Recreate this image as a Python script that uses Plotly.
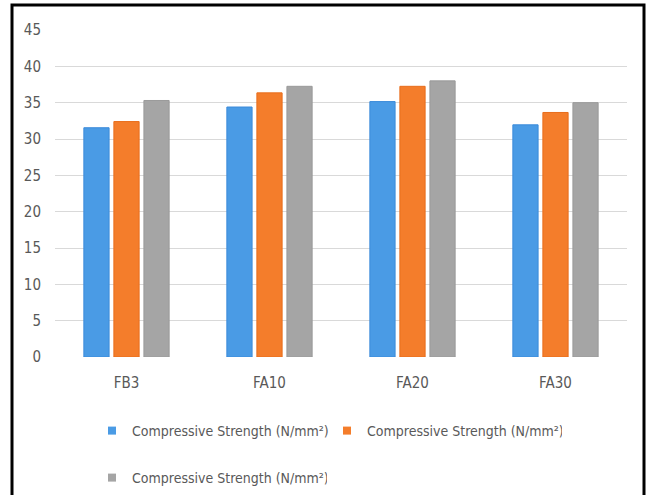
import plotly.graph_objects as go

# Mix designs and measured compressive strengths (N/mm²)
categories = ["FB3", "FA10", "FA20", "FA30"]
series_names = ["Compressive Strength (N/mm²)"] * 3
strength_a = [31.55, 34.4, 35.15, 31.95]
strength_b = [32.4, 36.35, 37.25, 33.65]
strength_c = [35.3, 37.25, 38.0, 35.0]
y_ticks = [0, 5, 10, 15, 20, 25, 30, 35, 40, 45]

fills = ["#4A9BE5", "#F47D2B", "#A5A5A5"]
edges = ["#3A8ADA", "#E86E1C", "#9A9A9A"]
FONT = "DejaVu Sans Condensed, Roboto, sans-serif"

W, H = 648, 495
ML, MR, MT, MB = 55, 21, 30, 138
PW, PH = W - ML - MR, H - MT - MB

fig = go.Figure()
for vals, fc, ec in zip([strength_a, strength_b, strength_c], fills, edges):
    fig.add_trace(go.Bar(
        x=categories, y=vals, showlegend=False,
        marker=dict(color=fc, line=dict(color=ec, width=1)),
    ))

# Legend entries with small square keys
legend_ids = ["legend", "legend", "legend2"]
for name, fc, lg in zip(series_names, fills, legend_ids):
    fig.add_trace(go.Scatter(
        x=[None], y=[None], mode="markers", name=name, legend=lg,
        marker=dict(symbol="square", size=8, color=fc),
    ))


def px_x(px):
    return (px - ML) / PW


def px_y(py):
    return (H - MB - py) / PH


legend_common = dict(
    orientation="h", xanchor="left", yanchor="middle",
    font=dict(family=FONT, size=14, color="#595959"),
    bgcolor="rgba(0,0,0,0)", itemwidth=30, tracegroupgap=0,
    entrywidth=190,
)

fig.update_layout(
    width=W, height=H,
    margin=dict(l=ML, r=MR, t=MT, b=MB, autoexpand=False),
    paper_bgcolor="white", plot_bgcolor="white",
    barmode="group", bargap=0.37, bargroupgap=0.16,
    font=dict(family=FONT, color="#595959"),
    legend=dict(x=px_x(92), y=px_y(431), **legend_common),
    legend2=dict(x=px_x(92), y=px_y(478), **legend_common),
    xaxis=dict(
        showgrid=False, showline=False, ticks="",
        tickfont=dict(family=FONT, size=15, color="#595959"),
        ticklabelstandoff=15,
    ),
    yaxis=dict(
        range=[0, 45], tickvals=y_ticks, showline=False, zeroline=False,
        gridcolor="#D9D9D9", gridwidth=1, ticks="",
        tickfont=dict(family=FONT, size=15, color="#595959"),
        ticklabelstandoff=13,
    ),
    shapes=[dict(
        type="rect", xref="paper", yref="paper", layer="above",
        x0=px_x(12), x1=px_x(644), y0=px_y(498), y1=px_y(5),
        line=dict(color="black", width=3), fillcolor="rgba(0,0,0,0)",
    )],
)

fig.write_html("out.html")
